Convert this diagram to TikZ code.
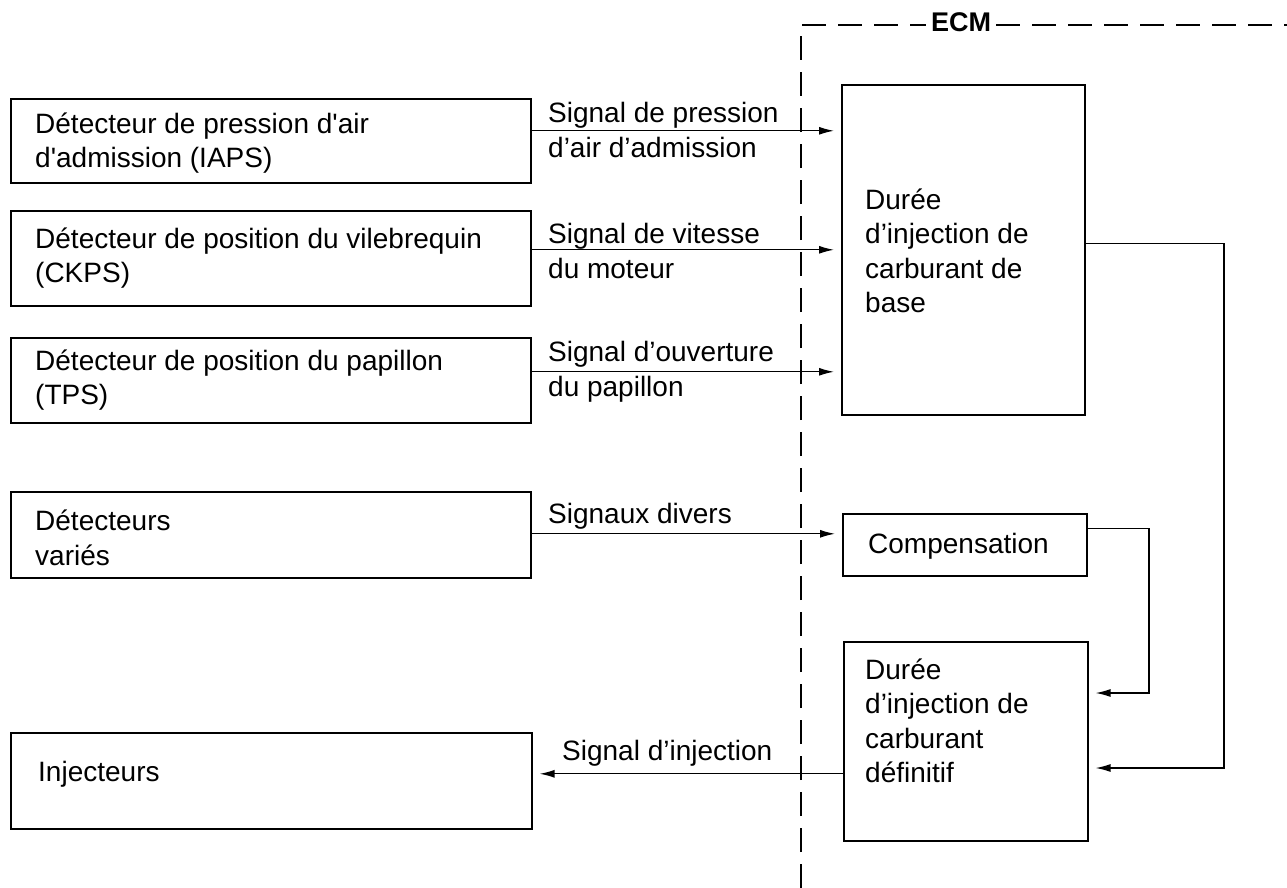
\documentclass[tikz,border=0pt]{standalone}
\usepackage{fontspec}
\setmainfont{Liberation Sans}
\usetikzlibrary{arrows.meta}
\begin{document}
\begin{tikzpicture}[x=1pt,y=-1pt,
  box/.style={draw, line width=1.6pt, rectangle, inner sep=0pt, anchor=north west},
  txt/.style={anchor=west, align=left, inner sep=0pt, font=\fontsize{28}{34.5}\selectfont},
  arr/.style={line width=1.3pt, -{Latex[length=15pt,width=8pt]}, shorten >=7pt},
  ecmline/.style={line width=1.1pt, dash pattern=on 24pt off 12pt}]
\useasboundingbox (0,0) rectangle (1287,888);
% left boxes
\node[box, minimum width=520pt, minimum height=84pt] (b1) at (10,98) {};
\node[box, minimum width=520pt, minimum height=95pt] (b2) at (10,210) {};
\node[box, minimum width=520pt, minimum height=85pt] (b3) at (10,337) {};
\node[box, minimum width=520pt, minimum height=86pt] (b4) at (10,491) {};
\node[box, minimum width=521pt, minimum height=96pt] (b5) at (10,732) {};
% right boxes
\node[box, minimum width=243pt, minimum height=330pt] (big) at (841,84) {};
\node[box, minimum width=244pt, minimum height=62pt] (comp) at (842,513) {};
\node[box, minimum width=244pt, minimum height=199pt] (fin) at (843,641) {};
% texts
\node[txt] (t1) at (35,143) {Détecteur de pression d\textquotesingle air\\d\textquotesingle admission (IAPS)};
\node[txt] (t2) at (35,258) {Détecteur de position du vilebrequin\\(CKPS)};
\node[txt] (t3) at (35,380) {Détecteur de position du papillon\\(TPS)};
\node[txt] (t4) at (35,538) {Détecteurs\\variés};
\node[txt] (t5) at (38,774) {Injecteurs};
\node[txt] (t6) at (865,251) {Durée\\d’injection de\\carburant de\\base};
\node[txt] (t7) at (868,546) {Compensation};
\node[txt] (t8) at (865,721) {Durée\\d’injection de\\carburant\\définitif};
% signal labels
\node[txt] (s1) at (548,130) {Signal de pression\\d’air d’admission};
\node[txt] (s2) at (548,251) {Signal de vitesse\\du moteur};
\node[txt] (s3) at (548,372) {Signal d’ouverture\\du papillon};
\node[txt] (s4) at (548,516) {Signaux divers};
\node[txt] (s5) at (562,753) {Signal d’injection};
% ECM frame
\node[font=\bfseries\fontsize{27}{30}\selectfont, inner sep=0pt] (ecm) at (961,22) {ECM};
\coordinate (ctl) at (801,25);
\coordinate (cbl) at (801,888);
\coordinate (ctr) at (1287,25);
\draw[ecmline] (cbl) -- (ctl) -- ([xshift=-5pt]ecm.west |- ctl);
\draw[ecmline] ([xshift=5pt]ecm.east |- ctl) -- (ctr);
% arrows
\draw[arr] ([yshift=10pt]b1.east) -- ([yshift=10pt]b1.east -| big.west);
\draw[arr] ([yshift=8.5pt]b2.east) -- ([yshift=8.5pt]b2.east -| big.west);
\draw[arr] ([yshift=8.5pt]b3.east) -- ([yshift=8.5pt]b3.east -| big.west);
\draw[arr] ([yshift=1pt]b4.east) -- ([yshift=1pt]b4.east -| comp.west);
\draw[arr] ([yshift=-32.5pt]fin.west) -- ([yshift=-32.5pt]fin.west -| b5.east);
\coordinate (r1) at (1224,768);
\coordinate (r2) at (1149,693);
\draw[arr] ([yshift=6pt]big.east) -- ([yshift=6pt]big.east -| r1) -- (r1) -- (r1 -| fin.east);
\draw[arr] ([yshift=16pt]comp.east) -- ([yshift=16pt]comp.east -| r2) -- (r2) -- (r2 -| fin.east);
\end{tikzpicture}
\end{document}
